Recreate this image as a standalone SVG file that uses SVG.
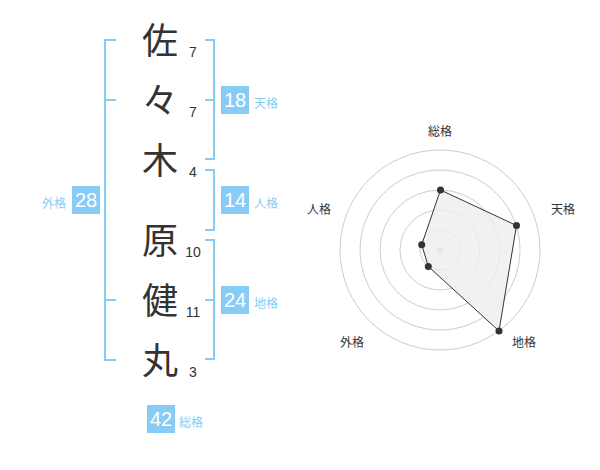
<svg xmlns="http://www.w3.org/2000/svg" width="600" height="470" viewBox="0 0 600 470">
<style>
.ch{font-family:"Noto Sans CJK JP","Noto Sans CJK SC",sans-serif;font-size:36px;fill:#333;text-anchor:middle}
.st{font-family:"Liberation Sans",Arial,sans-serif;font-size:14px;fill:#333;text-anchor:middle}
.br{fill:none;stroke:#88ccf6;stroke-width:2}
.bx{fill:#88ccf6}
.bn{font-family:"Liberation Sans",Arial,sans-serif;font-size:20px;fill:#fff;text-anchor:middle}
.bl{font-family:"Noto Sans CJK JP","Noto Sans CJK SC",sans-serif;font-size:12px;fill:#88ccf6}
.rl{font-family:"Noto Sans CJK JP","Noto Sans CJK SC",sans-serif;font-size:12px;fill:#333;text-anchor:middle}
.ring{fill:none;stroke:#ccc;stroke-width:1}
</style>
<rect width="600" height="470" fill="#fff"/>
<g id="chars">
<text class="ch" x="160" y="54">佐</text>
<text class="ch" x="160" y="114">々</text>
<text class="ch" x="160" y="174">木</text>
<text class="ch" x="160" y="254">原</text>
<text class="ch" x="160" y="314">健</text>
<text class="ch" x="160" y="374">丸</text>
</g>
<g id="strokes">
<text class="st" x="193" y="57">7</text>
<text class="st" x="193" y="117">7</text>
<text class="st" x="193" y="177">4</text>
<text class="st" x="193" y="257">10</text>
<text class="st" x="193" y="317">11</text>
<text class="st" x="193" y="377">3</text>
</g>
<g id="connectors">
<path class="br" d="M116,40 H105 V360 H116 M105,100 H116 M105,300 H116"/>
<path class="br" d="M205,40 H214 V159 H205 M205,100 H214"/>
<path class="br" d="M205,170 H214 V230 H205"/>
<path class="br" d="M205,240 H214 V359 H205 M205,300 H214"/>
</g>
<g id="tenkaku">
<rect class="bx" x="221" y="86" width="28" height="28"/>
<text class="bn" x="235" y="107.2">18</text>
<text class="bl" x="254" y="108">天格</text>
</g>
<g id="jinkaku">
<rect class="bx" x="221" y="186" width="28" height="28"/>
<text class="bn" x="235" y="207.2">14</text>
<text class="bl" x="254" y="208">人格</text>
</g>
<g id="chikaku">
<rect class="bx" x="221" y="286" width="28" height="28"/>
<text class="bn" x="235" y="307.2">24</text>
<text class="bl" x="254" y="308">地格</text>
</g>
<g id="gaikaku">
<rect class="bx" x="72" y="186" width="28" height="28"/>
<text class="bn" x="86" y="207.2">28</text>
<text class="bl" x="66" y="208" text-anchor="end">外格</text>
</g>
<g id="soukaku">
<rect class="bx" x="147" y="405" width="28" height="28"/>
<text class="bn" x="161" y="426.2">42</text>
<text class="bl" x="179" y="427">総格</text>
</g>
<g id="radar">
<circle class="ring" cx="440" cy="250" r="20"/>
<circle class="ring" cx="440" cy="250" r="40"/>
<circle class="ring" cx="440" cy="250" r="60"/>
<circle class="ring" cx="440" cy="250" r="80"/>
<circle class="ring" cx="440" cy="250" r="100"/>
<circle cx="440" cy="250" r="3.5" fill="#ccc"/>
<polygon points="440.5,190 516.5,225.5 499,331 428.3,266.5 421.7,244.7" fill="#eee" fill-opacity="0.8" stroke="#333" stroke-width="1"/>
<g fill="#333">
<circle cx="440.5" cy="190" r="3.5"/>
<circle cx="516.5" cy="225.5" r="3.5"/>
<circle cx="499" cy="331" r="3.5"/>
<circle cx="428.3" cy="266.5" r="3.5"/>
<circle cx="421.7" cy="244.7" r="3.5"/>
</g>
<text class="rl" x="440" y="136">総格</text>
<text class="rl" x="563" y="214">天格</text>
<text class="rl" x="524" y="347">地格</text>
<text class="rl" x="352" y="347">外格</text>
<text class="rl" x="319" y="214">人格</text>
</g>
</svg>
